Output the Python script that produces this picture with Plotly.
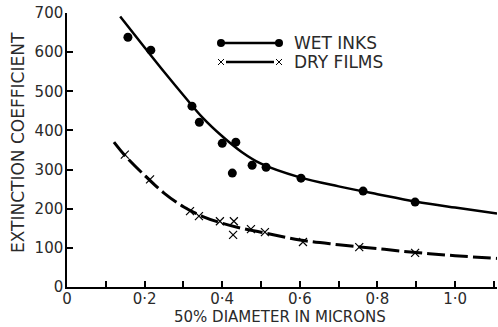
import plotly.graph_objects as go

# ---- data ----
wet_x = [0.157, 0.216, 0.322, 0.341, 0.40, 0.426, 0.435, 0.477, 0.513, 0.603, 0.763, 0.897]
wet_y = [638, 605, 462, 421, 367, 291, 370, 311, 306, 278, 245, 217]

dry_x = [0.149, 0.214, 0.317, 0.34, 0.394, 0.428, 0.43, 0.474, 0.51, 0.608, 0.753, 0.897]
dry_y = [338, 275, 194, 181, 168, 133, 168, 148, 140, 115, 102, 87]

wet_curve_x = [0.137, 0.2, 0.25, 0.3, 0.35, 0.4, 0.45, 0.5, 0.6, 0.7, 0.8, 0.9, 1.0, 1.108]
wet_curve_y = [691, 612, 550, 490, 432, 385, 345, 315, 280, 257, 237, 218, 203, 188]

dry_curve_x = [0.121, 0.15, 0.2, 0.25, 0.3, 0.35, 0.4, 0.45, 0.5, 0.6, 0.7, 0.8, 0.9, 1.0, 1.108]
dry_curve_y = [370, 335, 285, 240, 205, 180, 163, 150, 140, 120, 108, 98, 88, 80, 73]

x_tickvals = [0, 0.1, 0.2, 0.3, 0.4, 0.5, 0.6, 0.7, 0.8, 0.9, 1.0, 1.1]
x_ticktext = ["0", "", "0·2", "", "0·4", "", "0·6", "", "0·8", "", "1·0", ""]
y_tickvals = [0, 100, 200, 300, 400, 500, 600, 700]
y_ticktext = ["0", "100", "200", "300", "400", "500", "600", "700"]

legend_labels = ["WET INKS", "DRY FILMS"]
x_title = "50% DIAMETER IN MICRONS"
y_title = "EXTINCTION COEFFICIENT"

FONT = "DejaVu Sans"
TXT = "#2a2a2a"

fig = go.Figure()
fig.add_trace(go.Scatter(x=wet_curve_x, y=wet_curve_y, mode="lines", line=dict(color="black", width=2.5, shape="spline"), showlegend=False))
fig.add_trace(go.Scatter(x=dry_curve_x, y=dry_curve_y, mode="lines", line=dict(color="black", width=3, shape="spline", dash="18px,5px"), showlegend=False))
fig.add_trace(go.Scatter(x=wet_x, y=wet_y, mode="markers", marker=dict(color="black", size=9, symbol="circle"), showlegend=False))
fig.add_trace(go.Scatter(x=dry_x, y=dry_y, mode="markers", marker=dict(color="black", size=8, symbol="x-thin-open", line=dict(width=1.2, color="black")), showlegend=False))

# custom legend (paper coords)
W, H = 498, 327
L, R, T, B = 67, 1, 13, 40
pw, ph = W - L - R, H - T - B
def px(x):
    return (x - L) / pw
def py(y):
    return (H - B - y) / ph

shapes = []
annotations = []
# wet legend
shapes.append(dict(type="line", xref="paper", yref="paper", x0=px(221), x1=px(279), y0=py(43), y1=py(43), line=dict(color="black", width=2.5)))
for cx in (221, 279):
    shapes.append(dict(type="circle", xref="paper", yref="paper", x0=px(cx - 4), x1=px(cx + 4), y0=py(43 + 4), y1=py(43 - 4), fillcolor="black", line=dict(color="black", width=0)))
# dry legend
shapes.append(dict(type="line", xref="paper", yref="paper", x0=px(226), x1=px(274), y0=py(62), y1=py(62), line=dict(color="black", width=2.5)))
for cx in (221, 279):
    for d in (1, -1):
        shapes.append(dict(type="line", xref="paper", yref="paper", x0=px(cx - 3), x1=px(cx + 3), y0=py(62 - 3 * d), y1=py(62 + 3 * d), line=dict(color="black", width=1)))
for lab, yy in zip(legend_labels, (43, 62)):
    annotations.append(dict(text=lab, xref="paper", yref="paper", x=px(292), y=py(yy), xanchor="left", yanchor="middle", showarrow=False, font=dict(family=FONT, size=17, color=TXT)))

# axis titles
annotations.append(dict(text=x_title, xref="paper", yref="paper", x=px(280), y=py(317), xanchor="center", yanchor="middle",
                        showarrow=False, borderpad=0, font=dict(family=FONT, size=15, color=TXT)))
annotations.append(dict(text=y_title, xref="paper", yref="paper", x=px(18), y=py(143), xanchor="center", yanchor="middle",
                        textangle=-90, showarrow=False, font=dict(family=FONT, size=17, color=TXT)))

fig.update_layout(
    width=W, height=H,
    margin=dict(l=L, r=R, t=T, b=B),
    plot_bgcolor="white", paper_bgcolor="white",
    shapes=shapes, annotations=annotations,
    font=dict(family=FONT, size=15, color=TXT),
    xaxis=dict(range=[0, 1.108], tickvals=x_tickvals, ticktext=x_ticktext, ticks="inside", ticklen=6, tickwidth=1.5, tickcolor="black",
               showline=True, linecolor="black", linewidth=1.5, showgrid=False, zeroline=False,
               ticklabelstandoff=-3, automargin=False),
    yaxis=dict(range=[0, 700], tickvals=y_tickvals, ticktext=y_ticktext, ticks="inside", ticklen=6, tickwidth=1.5, tickcolor="black",
               showline=True, linecolor="black", linewidth=1.5, showgrid=False, zeroline=False,
               ticklabelstandoff=-1, automargin=False),
)
fig.write_html("out.html")
